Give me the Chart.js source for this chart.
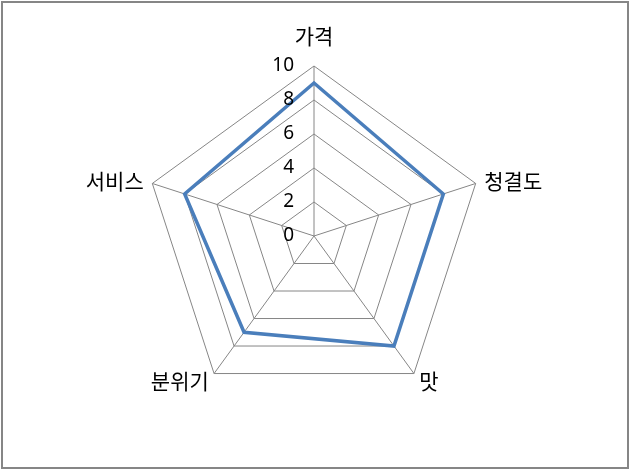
<!DOCTYPE html>
<html>
<head>
<meta charset="utf-8">
<script src="https://cdn.jsdelivr.net/npm/chart.js@4"></script>
<style>
    html, body { margin: 0; padding: 0; background: #fff; }
    #wrap { position: relative; width: 630px; height: 471px; }
    #frame {
        position: absolute; left: 1px; top: 1px; width: 628px; height: 468px;
        box-sizing: border-box; border: 2px solid #868686; pointer-events: none;
    }
</style>
</head>
<body>
<div id="wrap">
    <canvas id="radarChart" width="630" height="471"></canvas>
    <div id="frame"></div>
</div>
<script>
// Chart data
const categories = ["가격", "청결도", "맛", "분위기", "서비스"];
const scores = [9, 8, 8, 7, 8];
const tickValues = [0, 2, 4, 6, 8, 10];

const gridGray = "#868686";
const lineBlue = "#4a7ebb";

// Excel-style labels: ticks right-aligned left of the vertical axis, category names around the rim
const excelLabels = {
    id: "excelLabels",
    afterDatasetsDraw(chart) {
        const scale = chart.scales.r;
        const ctx = chart.ctx;
        ctx.save();
        ctx.fillStyle = "#000";
        ctx.textBaseline = "middle";

        ctx.font = '19px "Noto Sans", "DejaVu Sans", sans-serif';
        ctx.textAlign = "right";
        tickValues.forEach(v => {
            const d = scale.getDistanceFromCenterForValue(v);
            ctx.fillText(String(v), scale.xCenter - 20, scale.yCenter - d);
        });

        ctx.font = '21px "Noto Sans CJK KR", sans-serif';
        categories.forEach((name, i) => {
            const p = scale.getPointPosition(i, scale.drawingArea + 9);
            const dx = p.x - scale.xCenter;
            let y = p.y;
            if (Math.abs(dx) < 1) {
                ctx.textAlign = "center";
                y -= 21;
            } else {
                ctx.textAlign = dx > 0 ? "left" : "right";
            }
            ctx.fillText(name, p.x, y);
        });
        ctx.restore();
    }
};

new Chart(document.getElementById("radarChart"), {
    type: "radar",
    data: {
        labels: categories,
        datasets: [{
            label: "점수",
            data: scores,
            borderColor: lineBlue,
            borderWidth: 3.5,
            borderJoinStyle: "miter",
            backgroundColor: "transparent",
            fill: false,
            pointRadius: 0,
            pointHoverRadius: 0,
            tension: 0
        }]
    },
    options: {
        responsive: false,
        animation: false,
        layout: {
            padding: { top: 66, bottom: 65, left: 100, right: 102 }
        },
        plugins: {
            legend: { display: false },
            tooltip: { enabled: false }
        },
        scales: {
            r: {
                min: 0,
                max: 10,
                beginAtZero: true,
                ticks: { display: false, stepSize: 2 },
                pointLabels: { display: false },
                grid: { color: gridGray, lineWidth: 1 },
                angleLines: { color: gridGray, lineWidth: 1 }
            }
        }
    },
    plugins: [excelLabels]
});
</script>
</body>
</html>
